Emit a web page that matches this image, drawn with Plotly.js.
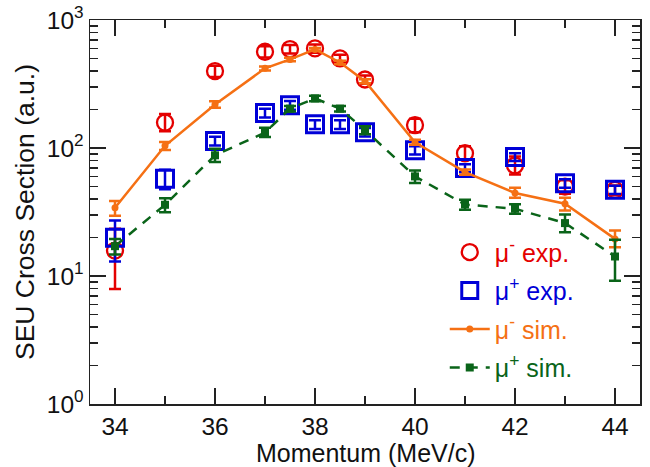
<!DOCTYPE html>
<html>
<head>
<meta charset="utf-8">
<script src="https://cdn.plot.ly/plotly-3.0.1.min.js"></script>
<style>html,body{margin:0;padding:0;background:#fff;}#chart{width:650px;height:467px;}</style>
</head>
<body>
<div id="chart"></div>
<script>
// Momentum (MeV/c)
const momentum = [34, 35, 36, 37, 37.5, 38, 38.5, 39, 40, 41, 42, 43, 44];

// mu- experiment
const muMinusExp      = [15.8, 158, 399, 565, 593, 600, 501, 343, 151, 91, 73, 50, 47];
const muMinusExpErrHi = [7.6, 26, 40, 60, 45, 45, 35, 25, 18, 12, 13, 6, 4];
const muMinusExpErrLo = [7.9, 23, 40, 55, 45, 45, 35, 25, 18, 10, 11, 6, 4];

// mu+ experiment
const muPlusExp      = [19.9, 57.6, 113.5, 188, 216, 153, 153, 133, 96, 69.7, 85, 53, 47.2];
const muPlusExpErrHi = [7.3, 10, 9, 15, 17, 12, 12, 10, 7, 5, 6, 4, 3.5];
const muPlusExpErrLo = [6.9, 10, 9, 15, 17, 12, 12, 10, 7, 5, 6, 4, 3.5];

// mu- simulation
const muMinusSim      = [34.1, 104, 219, 419, 492, 589, 466, 333, 111, 64.9, 44.5, 36.7, 19.5];
const muMinusSimErrHi = [4.5, 7.5, 13, 15, 15, 15, 15, 12, 5, 3, 4.5, 4.2, 3.2];
const muMinusSimErrLo = [4.5, 7.5, 13, 15, 15, 15, 15, 12, 5, 3, 3.6, 4.2, 2.7];

// mu+ simulation
const muPlusSim      = [17.1, 36, 87.7, 132, 203, 244, 203, 138, 60, 36.2, 33.5, 25.9, 14.2];
const muPlusSimErrHi = [2.4, 4.5, 11, 12, 10, 12, 10, 10, 6.8, 3.3, 2.8, 4.4, 5];
const muPlusSimErrLo = [2.4, 4.5, 10, 10, 10, 12, 10, 10, 6.7, 3.3, 2.9, 3.9, 5];

// tick labels
const xTickVals = [34, 36, 38, 40, 42, 44];
const xTickText = ['34', '36', '38', '40', '42', '44'];
const xMinorVals = [35, 37, 39, 41, 43];
const yTickVals = [1, 10, 100, 1000];
const yTickText = ['10<sup>0</sup>', '10<sup>1</sup>', '10<sup>2</sup>', '10<sup>3</sup>'];
const yMinorVals = [2,3,4,5,6,7,8,9,20,30,40,50,60,70,80,90,200,300,400,500,600,700,800,900];

const RED = 'rgb(228,0,0)';
const BLUE = 'rgb(0,0,215)';
const ORANGE = 'rgb(245,112,20)';
const GREEN = 'rgb(10,100,25)';
const FONT = 'Liberation Sans, Arial, sans-serif';

function err(hi, lo, color, thick, w) {
  return {type: 'data', symmetric: false, array: hi, arrayminus: lo, color: color, thickness: thick, width: w};
}

const traces = [
  {
    x: momentum, y: muMinusExp, type: 'scatter', mode: 'markers',
    name: '<span style="color:' + RED + '">μ<sup>-</sup> exp.</span>',
    marker: {symbol: 'circle-open', size: 16, color: RED, line: {width: 2.3, color: RED}},
    error_y: err(muMinusExpErrHi, muMinusExpErrLo, RED, 2.5, 6),
    legendgroup: 'a'
  },
  {
    x: momentum, y: muPlusExp, type: 'scatter', mode: 'markers',
    name: '<span style="color:' + BLUE + '">μ<sup>+</sup> exp.</span>',
    marker: {symbol: 'square-open', size: 17, color: BLUE, line: {width: 3, color: BLUE}},
    error_y: err(muPlusExpErrHi, muPlusExpErrLo, BLUE, 2.5, 6),
    legendgroup: 'b'
  },
  {
    x: momentum, y: muMinusSim, type: 'scatter', mode: 'lines+markers',
    name: '<span style="color:' + ORANGE + '">μ<sup>-</sup> sim.</span>',
    line: {color: ORANGE, width: 2.5},
    marker: {symbol: 'circle', size: 7, color: ORANGE},
    error_y: err(muMinusSimErrHi, muMinusSimErrLo, ORANGE, 2.5, 6),
    legendgroup: 'c'
  },
  {
    x: momentum, y: muPlusSim, type: 'scatter', mode: 'lines+markers',
    name: '<span style="color:' + GREEN + '">μ<sup>+</sup> sim.</span>',
    line: {color: GREEN, width: 2.5, dash: '10px,8px'},
    marker: {symbol: 'square', size: 8, color: GREEN},
    error_y: err(muPlusSimErrHi, muPlusSimErrLo, GREEN, 2.5, 6),
    legendgroup: 'd'
  }
];

const axisCommon = {
  showline: true, linecolor: '#222', linewidth: 1.5, mirror: 'ticks',
  ticks: 'inside', ticklen: 16, tickwidth: 1.5, tickcolor: '#222',
  showgrid: false, zeroline: false,
  tickfont: {family: FONT, size: 24.5, color: '#111'}
};

const layout = {
  width: 650, height: 467,
  margin: {l: 90, r: 10, t: 20, b: 63},
  paper_bgcolor: '#fff', plot_bgcolor: '#fff',
  showlegend: true,
  legend: {
    x: 0.645, y: 0.455, xanchor: 'left', yanchor: 'top',
    bgcolor: 'rgba(0,0,0,0)', borderwidth: 0,
    font: {family: FONT, size: 25},
    traceorder: 'grouped', tracegroupgap: 3, itemwidth: 40
  },
  xaxis: Object.assign({}, axisCommon, {
    range: [33.5, 44.5],
    tickmode: 'array', tickvals: xTickVals, ticktext: xTickText,
    minor: {tickmode: 'array', tickvals: xMinorVals, ticks: 'inside', ticklen: 8, tickwidth: 1.5, tickcolor: '#222'}
  }),
  yaxis: Object.assign({}, axisCommon, {
    type: 'log', range: [0, 3],
    tickmode: 'array', tickvals: yTickVals, ticktext: yTickText,
    minor: {tickmode: 'array', tickvals: yMinorVals, ticks: 'inside', ticklen: 8, tickwidth: 1.5, tickcolor: '#222'},
    title: {text: 'SEU Cross Section (a.u.)', font: {family: FONT, size: 26.5, color: '#111'}, standoff: 4}
  }),
  annotations: [{
    text: 'Momentum (MeV/c)', xref: 'paper', yref: 'paper', x: 0.5, y: 0,
    xanchor: 'center', yanchor: 'top', yshift: -33, showarrow: false,
    font: {family: FONT, size: 25, color: '#111'}
  }]
};

Plotly.newPlot('chart', traces, layout, {displayModeBar: false, staticPlot: true});
</script>
</body>
</html>
